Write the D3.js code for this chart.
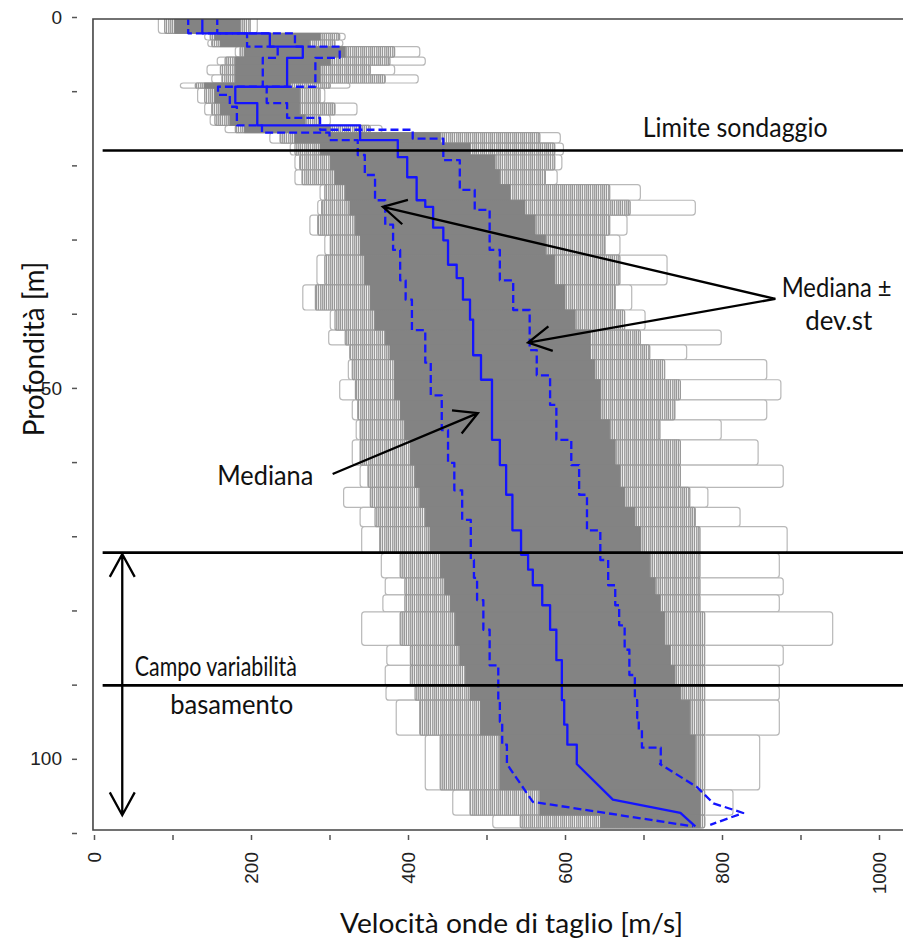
<!DOCTYPE html>
<html>
<head>
<meta charset="utf-8">
<title>Profili Vs</title>
<style>
  body { margin: 0; background: #fff; }
  .note { font-family: Lato, "Open Sans", sans-serif; font-size: 26px; fill: #111; }
  .tick text { font-family: "Liberation Sans", Arial, sans-serif; font-size: 19px; fill: #222; }
  .tick line { stroke: #555; stroke-width: 1.5; }
</style>
</head>
<body>
<script src="https://d3js.org/d3.v7.min.js"></script>
<script>
// depth of the top of each layer of the gray profile bundle [m]
var layerTop = [0, 2.2, 3.1, 4.0, 5.4, 6.5, 7.8, 8.9, 9.6, 11.6, 13.2, 14.6, 15.6, 17.0, 18.6,
  20.6, 22.6, 24.7, 26.7, 29.4, 32.1, 36.1, 39.5, 42.2, 44.2, 46.2, 48.9, 51.6, 54.3, 57.0,
  60.4, 63.4, 66.1, 68.7, 72.3, 75.6, 77.9, 80.2, 84.7, 87.4, 90.2, 92.1, 96.8, 104.2, 107.6];
var grayBottom = 109.3;

// outer extent of the profiles (single outliers) [m/s]
var outerMin = [82, 141, 145, 180, 157, 144, 150, 110, 132, 141, 148, 167, 224, 250, 256,
  256, 288, 285, 275, 294, 284, 266, 301, 299, 326, 324, 313, 329, 334, 329,
  339, 318, 339, 341, 366, 371, 368, 341, 373, 371, 372, 385, 422, 457, 508];
var outerMax = [208, 320, 317, 415, 422, 383, 413, 326, 294, 335, 301, 367, 594, 598, 596,
  590, 696, 766, 679, 670, 730, 685, 702, 799, 755, 857, 875, 857, 799, 846,
  878, 782, 823, 883, 873, 878, 873, 941, 878, 873, 873, 873, 848, 814, 778];
// extent of the many overlapping profiles
var midMin = [90, 148, 150, 186, 167, 161, 163, 129, 141, 150, 154, 180, 237, 256, 262,
  265, 294, 290, 285, 301, 294, 282, 307, 320, 326, 329, 333, 336, 339, 339,
  349, 352, 358, 364, 390, 396, 396, 390, 403, 403, 409, 415, 441, 479, 543];
var midMax = [199, 313, 307, 383, 377, 352, 371, 301, 288, 307, 288, 352, 568, 587, 587,
  575, 657, 683, 657, 651, 670, 664, 676, 696, 708, 727, 747, 740, 721, 747,
  747, 759, 766, 772, 772, 772, 772, 778, 778, 778, 778, 778, 778, 778, 778];
// solid gray core
var denseMin = [103, 154, 161, 192, 180, 180, 180, 141, 154, 161, 173, 192, 256, 288, 301,
  307, 320, 326, 333, 339, 345, 352, 358, 371, 377, 383, 383, 390, 396, 403,
  409, 415, 422, 428, 441, 447, 454, 460, 466, 473, 479, 492, 517, 568, 645];
var denseMax = [186, 288, 275, 320, 301, 288, 288, 250, 262, 262, 269, 301, 441, 479, 511,
  517, 530, 549, 562, 575, 587, 600, 613, 632, 632, 638, 645, 645, 657, 664,
  670, 676, 689, 696, 708, 715, 721, 727, 734, 740, 747, 759, 766, 772, 772];

// mediana: step part (layer top depth, velocity) and final sloping part
var medD = [0, 2.2, 4.0, 5.5, 9.4, 11.6, 14.6, 16.6, 18.9, 21.6, 24.7, 25.6, 28.4, 30.1, 33.4,
  35.2, 38.1, 40.8, 45.6, 48.9, 57.0, 60.4, 64.4, 69.2, 72.5, 74.5, 76.6, 79.3, 82.6, 86.7,
  92.1, 95.4, 98.1];
var medV = [138, 224, 266, 246, 180, 208, 339, 387, 399, 411, 422, 432, 445, 451, 462,
  470, 479, 483, 493, 507, 517, 525, 533, 544, 553, 559, 571, 581, 589, 596,
  599, 603, 615];
var medTailD = [100.7, 105.5, 107.3, 109.1];
var medTailV = [615, 661, 747, 766];

// mediana - dev.st
var lowD = [0, 2.2, 4.0, 5.5, 9.4, 10.5, 12.1, 14.6, 15.6, 16.6, 18.6, 21.3, 24.7, 28.0, 31.4,
  35.5, 38.1, 42.2, 46.6, 51.0, 55.7, 60.1, 63.8, 67.8, 73.2, 75.6, 78.6, 82.6, 87.4, 92.1,
  95.0, 98.1];
var lowV = [120, 195, 234, 215, 158, 173, 182, 214, 300, 336, 345, 358, 371, 381, 390,
  397, 405, 422, 429, 443, 451, 459, 469, 480, 484, 488, 496, 504, 515, 517,
  520, 526];
var lowTailD = [100.7, 105.8, 109.1];
var lowTailV = [526, 559, 763];

// mediana + dev.st
var highD = [0, 2.2, 4.0, 5.5, 9.4, 11.6, 13.6, 15.2, 16.4, 19.3, 23.3, 26.0, 31.4, 35.5, 39.5,
  44.9, 48.3, 52.3, 57.0, 60.4, 64.4, 69.2, 73.2, 76.6, 79.3, 82.0, 85.3, 88.7, 92.1, 94.5,
  96.1, 98.5];
var highV = [157, 256, 313, 282, 220, 246, 288, 406, 445, 466, 485, 504, 517, 534, 555,
  564, 581, 589, 608, 618, 628, 645, 655, 664, 669, 676, 682, 689, 692, 694,
  698, 722];
var highTailD = [100.7, 103.8, 106.0, 107.3, 108.9];
var highTailV = [721, 768, 789, 827, 785];

// reference depths [m]
var limitDepths = [18, 72.2, 90.1];

var yTicks = d3.range(0, 111, 10);
var yLabels = [0, 50, 100];
var xTicks = d3.range(0, 1001, 100);
var xLabels = [0, 200, 400, 600, 800, 1000];

var W = 903, H = 940;
var x = d3.scaleLinear().domain([0, 1000]).range([94, 879]);
var y = d3.scaleLinear().domain([0, 110]).range([17, 833]);

var svg = d3.select("body").append("svg")
  .attr("width", W).attr("height", H)
  .style("font-family", "Lato, sans-serif");

var defs = svg.append("defs");
defs.append("clipPath").attr("id", "plot").append("rect")
  .attr("x", x(-1.3)).attr("y", y(0.27))
  .attr("width", W - x(-1.3)).attr("height", y(109.6) - y(0.27));

var pat = defs.append("pattern").attr("id", "stripes")
  .attr("patternUnits", "userSpaceOnUse").attr("width", 8).attr("height", 30);
pat.append("rect").attr("width", 8).attr("height", 30).attr("fill", "#eeeeee");
[[0.8, "#8a8a8a"], [2.6, "#9c9c9c"], [4.3, "#888888"], [6.4, "#939393"]].forEach(function (s) {
  pat.append("line").attr("x1", s[0]).attr("x2", s[0]).attr("y1", 0).attr("y2", 30)
    .attr("stroke", s[1]).attr("stroke-width", 1.1);
});

var layers = layerTop.map(function (d, i) {
  return { i: i, top: d, bot: i < layerTop.length - 1 ? layerTop[i + 1] : grayBottom };
});

var plot = svg.append("g").attr("clip-path", "url(#plot)");

function band(cls, lo, hi) {
  return plot.append("g").attr("class", cls).selectAll("rect")
    .data(layers).enter().append("rect")
    .attr("x", function (d) { return x(lo[d.i]); })
    .attr("y", function (d) { return y(d.top); })
    .attr("width", function (d) { return x(hi[d.i]) - x(lo[d.i]); })
    .attr("height", function (d) { return y(d.bot) - y(d.top); });
}

band("outer", outerMin, outerMax)
  .attr("fill", "#fff").attr("stroke", "#b8b8b8").attr("stroke-width", 1.2).attr("rx", 3);
band("mid", midMin, midMax)
  .attr("fill", "url(#stripes)").attr("stroke", "#9a9a9a").attr("stroke-width", 1.2).attr("rx", 2);
band("dense", denseMin, denseMax)
  .attr("fill", "#838383").attr("stroke", "#838383").attr("stroke-width", 0.8);

// blue lines
function profilePoints(D, V, tD, tV) {
  var pts = [];
  D.forEach(function (d, i) {
    var next = i < D.length - 1 ? D[i + 1] : tD[0];
    pts.push([V[i], d]);
    pts.push([V[i], next]);
  });
  tD.forEach(function (d, i) { pts.push([tV[i], d]); });
  return pts;
}
var line = d3.line()
  .x(function (p) { return x(p[0]); })
  .y(function (p) { return y(p[1]); });

[[lowD, lowV, lowTailD, lowTailV, "8,4"],
 [highD, highV, highTailD, highTailV, "8,4"],
 [medD, medV, medTailD, medTailV, null]].forEach(function (s) {
  plot.append("path")
    .attr("d", line(profilePoints(s[0], s[1], s[2], s[3])))
    .attr("fill", "none").attr("stroke", "#1414ff").attr("stroke-width", 2.3)
    .attr("stroke-linejoin", "round")
    .attr("stroke-dasharray", s[4]);
});

// frame
svg.append("path")
  .attr("d", "M" + (W + 5) + "," + y(0.27) + "H" + x(-1.3) + "V" + y(109.6) + "H" + (W + 5))
  .attr("fill", "none").attr("stroke", "#444").attr("stroke-width", 1.6);

// horizontal reference lines
svg.selectAll(".limit").data(limitDepths).enter().append("line")
  .attr("x1", x(11)).attr("x2", W)
  .attr("y1", function (d) { return y(d); }).attr("y2", function (d) { return y(d); })
  .attr("stroke", "#000").attr("stroke-width", 2.6);

// axes
var yAxis = d3.axisLeft(y).tickValues(yTicks).tickSize(5).tickPadding(10)
  .tickFormat(function (d) { return yLabels.indexOf(d) >= 0 ? d : ""; });
svg.append("g").attr("transform", "translate(77,0)").call(yAxis)
  .call(function (g) { g.select(".domain").remove(); });

var xAxis = d3.axisBottom(x).tickValues(xTicks).tickSize(5)
  .tickFormat(function (d) { return xLabels.indexOf(d) >= 0 ? d : ""; });
svg.append("g").attr("transform", "translate(0,835)").call(xAxis)
  .call(function (g) { g.select(".domain").remove(); })
  .selectAll("text")
  .attr("transform", "rotate(-90)")
  .attr("x", -17).attr("y", 0).attr("dy", "0.36em")
  .style("text-anchor", "end");

svg.append("text").attr("class", "note")
  .attr("x", 340).attr("y", 933)
  .attr("textLength", 343).attr("lengthAdjust", "spacingAndGlyphs")
  .text("Velocità onde di taglio [m/s]");
svg.append("text").attr("class", "note")
  .attr("transform", "translate(44,349) rotate(-90)")
  .attr("text-anchor", "middle").style("font-size", "28px")
  .text("Profondità [m]");

// annotations
var notes = [
  { t: "Limite sondaggio", v: 699, d: 16.2, w: 185 },
  { t: "Mediana \u00b1", v: 876, d: 37.7, w: 110 },
  { t: "dev.st", v: 906, d: 42.2, w: 67 },
  { t: "Mediana", v: 157, d: 63.1, w: 96 },
  { t: "Campo variabilità", v: 52, d: 88.8, w: 162 },
  { t: "basamento", v: 97, d: 94.0, w: 123 }
];
svg.selectAll(".ann").data(notes).enter().append("text")
  .attr("class", "note")
  .attr("x", function (d) { return x(d.v); })
  .attr("y", function (d) { return y(d.d); })
  .attr("textLength", function (d) { return d.w; })
  .attr("lengthAdjust", "spacingAndGlyphs")
  .text(function (d) { return d.t; });

function head(x1, y1, x2, y2) {
  var a = Math.atan2(y2 - y1, x2 - x1), L = 26, s = 0.5;
  return "M" + (x2 - L * Math.cos(a - s)) + "," + (y2 - L * Math.sin(a - s)) +
    "L" + x2 + "," + y2 +
    "L" + (x2 - L * Math.cos(a + s)) + "," + (y2 - L * Math.sin(a + s));
}
var arrows = [
  { v1: 868, d1: 38.0, v2: 368, d2: 25.6, both: false },
  { v1: 868, d1: 38.0, v2: 553, d2: 43.9, both: false },
  { v1: 304, d1: 61.6, v2: 489, d2: 53.4, both: false },
  { v1: 36, d1: 72.4, v2: 36, d2: 107.6, both: true }
];
arrows.forEach(function (a) {
  var x1 = x(a.v1), y1 = y(a.d1), x2 = x(a.v2), y2 = y(a.d2);
  var d = "M" + x1 + "," + y1 + "L" + x2 + "," + y2 + head(x1, y1, x2, y2);
  if (a.both) d += head(x2, y2, x1, y1);
  svg.append("path").attr("d", d)
    .attr("fill", "none").attr("stroke", "#000").attr("stroke-width", 2.3);
});
</script>
</body>
</html>
